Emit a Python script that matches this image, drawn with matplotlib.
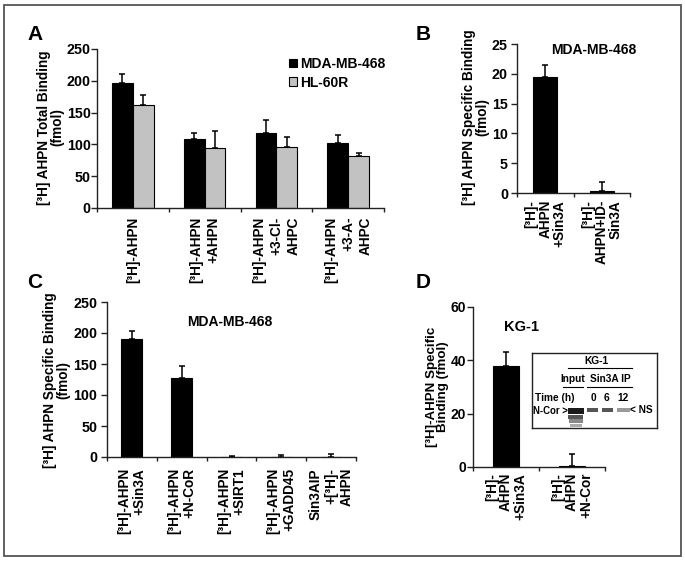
import matplotlib
matplotlib.use("Agg")
import matplotlib.pyplot as plt
from matplotlib.patches import Rectangle
import numpy as np

plt.rcParams['font.family'] = ['Liberation Sans', 'DejaVu Sans']
plt.rcParams['font.weight'] = 'bold'

# ---- Panel A data ----
a_labels = ["[³H]-AHPN", "[³H]-AHPN\n+AHPN", "[³H]-AHPN\n+3-Cl-\nAHPC", "[³H]-AHPN\n+3-A-\nAHPC"]
a_mda = [197, 108, 118, 102]
a_mda_err = [13, 10, 20, 12]
a_hl = [162, 95, 96, 81]
a_hl_err = [16, 26, 16, 6]
a_series = ["MDA-MB-468", "HL-60R"]
a_yticks = [0, 50, 100, 150, 200, 250]

# ---- Panel B data ----
b_labels = ["[³H]-\nAHPN\n+Sin3A", "[³H]-\nAHPN+ID-\nSin3A"]
b_vals = [19.5, 0.3]
b_err = [2.0, 1.5]
b_yticks = [0, 5, 10, 15, 20, 25]

# ---- Panel C data ----
c_labels = ["[³H]-AHPN\n+Sin3A", "[³H]-AHPN\n+N-CoR", "[³H]-AHPN\n+SIRT1",
            "[³H]-AHPN\n+GADD45", "Sin3AIP\n+[³H]-\nAHPN"]
c_vals = [191, 128, 0.5, 0.5, 0.5]
c_err = [13, 18, 1.5, 3, 4.5]
c_yticks = [0, 50, 100, 150, 200, 250]

# ---- Panel D data ----
d_labels = ["[³H]-\nAHPN\n+Sin3A", "[³H]-\nAHPN\n+N-Cor"]
d_vals = [38, 0.5]
d_err = [5, 4.5]
d_yticks = [0, 20, 40, 60]

W, H = 685, 562
fig = plt.figure(figsize=(W / 100, H / 100), dpi=100)

def fr(x0, y0, x1, y1):
    return [x0 / W, 1 - y1 / H, (x1 - x0) / W, (y1 - y0) / H]

SP = '#222222'

def style(ax, n, ymax, yticks, labels, ylabel, ylab_xy, gap=8, ls=1.15, tpad=2.0,
          tfs=10.3, yfs=9.8):
    ax.set_xlim(-0.5, n - 0.5)
    ax.set_ylim(0, ymax)
    ax.set_yticks(yticks)
    ax.set_xticks(np.arange(-0.5, n, 1.0))
    ax.set_xticklabels([])
    for s in ['top', 'right']:
        ax.spines[s].set_visible(False)
    for s in ['left', 'bottom']:
        ax.spines[s].set_color(SP)
        ax.spines[s].set_linewidth(1.0)
    ax.tick_params(axis='y', direction='out', length=4, width=1, labelsize=tfs,
                   color=SP, pad=tpad)
    ax.tick_params(axis='x', direction='out', length=3, width=1, color=SP)
    for lab in ax.get_yticklabels():
        lab.set_fontweight('bold')
    off = gap / (ax.get_position().height * H)
    for i, lab in enumerate(labels):
        ax.text(i, -off, lab, transform=ax.get_xaxis_transform(), rotation=90,
                ha='center', va='top', multialignment='right', fontsize=9.8,
                fontweight='bold', linespacing=ls)
    fig.text(ylab_xy[0] / W, 1 - ylab_xy[1] / H, ylabel, rotation=90, ha='center',
             va='center', multialignment='center', fontsize=yfs, fontweight='bold',
             linespacing=0.95)

ekw = dict(ecolor='black', elinewidth=1.1, capsize=2.5, capthick=1.1)

# Panel A
axA = fig.add_axes(fr(97, 49, 384, 208))
x = np.arange(len(a_labels))
bw = 0.29
axA.bar(x - bw / 2, a_mda, bw, color='black', edgecolor='black', linewidth=0.8,
        yerr=[np.zeros(len(a_mda)), a_mda_err], error_kw=ekw, label=a_series[0])
axA.bar(x + bw / 2, a_hl, bw, color='#c2c2c2', edgecolor='black', linewidth=0.8,
        yerr=[np.zeros(len(a_hl)), a_hl_err], error_kw=ekw, label=a_series[1])
style(axA, len(a_labels), 250, a_yticks, a_labels, "[³H] AHPN Total Binding\n(fmol)",
      (51, 127.5), gap=9, ls=1.3, tpad=0.5)
axA.legend(loc='upper left', bbox_to_anchor=(0.65, 0.985), frameon=False,
           prop={'size': 10, 'weight': 'bold'}, handlelength=0.6, handleheight=0.6,
           handletextpad=0.2, labelspacing=0.35, borderaxespad=0)

# Panel B
axB = fig.add_axes(fr(517, 44, 630, 193))
x = np.arange(len(b_labels))
axB.bar(x, b_vals, 0.43, color='black', edgecolor='black', linewidth=0.8,
        yerr=[np.zeros(len(b_vals)), b_err], error_kw=ekw)
style(axB, len(b_labels), 25, b_yticks, b_labels, "[³H] AHPN Specific Binding\n(fmol)",
      (476, 117), gap=7, ls=0.97, tpad=2.5)
axB.text(0.68, 0.96, "MDA-MB-468", transform=axB.transAxes, ha='center', va='center',
         fontsize=10, fontweight='bold')

# Panel C
axC = fig.add_axes(fr(107, 302, 356, 457))
x = np.arange(len(c_labels))
axC.bar(x, c_vals, 0.42, color='black', edgecolor='black', linewidth=0.8,
        yerr=[np.zeros(len(c_vals)), c_err], error_kw=ekw)
style(axC, len(c_labels), 250, c_yticks, c_labels, "[³H] AHPN Specific Binding\n(fmol)",
      (57, 380), gap=11, ls=1.12, tpad=3)
axC.text(0.494, 0.87, "MDA-MB-468", transform=axC.transAxes, ha='center', va='center',
         fontsize=10, fontweight='bold')

# Panel D
axD = fig.add_axes(fr(473, 307, 605, 467))
x = np.arange(len(d_labels))
axD.bar(x, d_vals, 0.4, color='black', edgecolor='black', linewidth=0.8,
        yerr=[np.zeros(len(d_vals)), d_err], error_kw=ekw)
style(axD, len(d_labels), 60, d_yticks, d_labels, "[³H]-AHPN Specific\nBinding (fmol)",
      (437.5, 387), gap=6, ls=1.0, tpad=1.0, tfs=10.0, yfs=9.6)
axD.text(0.37, 0.875, "KG-1", transform=axD.transAxes, ha='center', va='center',
         fontsize=10.5, fontweight='bold')

# Inset (western blot sketch)
axI = fig.add_axes(fr(532, 353, 657, 428))
axI.set_xlim(0, 1)
axI.set_ylim(0, 1)
axI.set_xticks([])
axI.set_yticks([])
for s in axI.spines.values():
    s.set_linewidth(1.0)
    s.set_color(SP)
ifs = 7.3
axI.text(0.518, 0.895, "KG-1", ha='center', va='center', fontsize=ifs, fontweight='bold')
axI.plot([0.288, 0.80], [0.80, 0.80], color='black', lw=0.8)
axI.text(0.328, 0.653, "Input", ha='center', va='center', fontsize=ifs, fontweight='bold')
axI.text(0.624, 0.653, "Sin3A IP", ha='center', va='center', fontsize=ifs, fontweight='bold')
axI.plot([0.248, 0.408], [0.547, 0.547], color='black', lw=0.8)
axI.plot([0.44, 0.80], [0.547, 0.547], color='black', lw=0.8)
axI.text(0.184, 0.40, "Time (h)", ha='center', va='center', fontsize=ifs, fontweight='bold')
for xx, t in zip([0.488, 0.60, 0.728], ["0", "6", "12"]):
    axI.text(xx, 0.40, t, ha='center', va='center', fontsize=ifs, fontweight='bold')
axI.text(0.285, 0.227, "N-Cor >", ha='right', va='center', fontsize=ifs - 0.4, fontweight='bold')
axI.text(0.784, 0.24, "< NS", ha='left', va='center', fontsize=ifs, fontweight='bold')
# bands
axI.add_patch(Rectangle((0.288, 0.187), 0.128, 0.08, color='#1a1a1a', lw=0))
axI.add_patch(Rectangle((0.288, 0.125), 0.12, 0.05, color='#555555', lw=0))
axI.add_patch(Rectangle((0.295, 0.07), 0.11, 0.045, color='#888888', lw=0))
axI.add_patch(Rectangle((0.30, 0.015), 0.10, 0.045, color='#aaaaaa', lw=0))
for x0, w0, c in zip([0.44, 0.56, 0.68], [0.088, 0.088, 0.104], ['#555555', '#555555', '#999999']):
    axI.add_patch(Rectangle((x0, 0.215), w0, 0.05, color=c, lw=0))

# Panel letters
for lab, (px, py) in zip("ABCD", [(35, 35), (423, 35), (35, 283), (423, 283)]):
    fig.text(px / W, 1 - py / H, lab, ha='center', va='center', fontsize=15, fontweight='bold')

# Outer frame
fig.patches.append(Rectangle((4 / W, 1 - 556 / H), 677 / W, 551 / H, transform=fig.transFigure,
                             fill=False, edgecolor='#555555', linewidth=1.3))

fig.savefig("out.png", dpi=100)
